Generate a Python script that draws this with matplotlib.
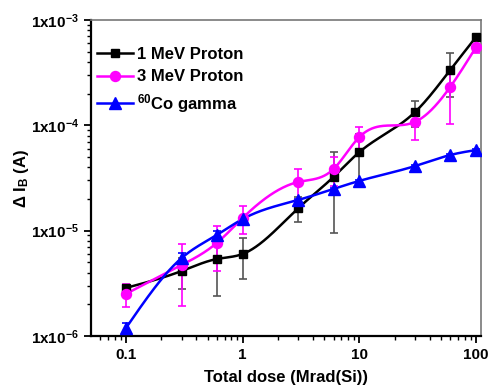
import numpy as np
import matplotlib
matplotlib.use("Agg")
import matplotlib.pyplot as plt
from matplotlib.ticker import FixedLocator, LogLocator, NullFormatter

plt.rcParams['font.family'] = ['Liberation Sans', 'DejaVu Sans']
plt.rcParams['font.weight'] = 'bold'
plt.rcParams['mathtext.fontset'] = 'custom'
plt.rcParams['mathtext.rm'] = 'Liberation Sans:bold'
plt.rcParams['mathtext.bf'] = 'Liberation Sans:bold'
plt.rcParams['mathtext.it'] = 'Liberation Sans:bold'
plt.rcParams['mathtext.default'] = 'bf'

# ---- data ----
dose = [0.1, 0.3, 0.6, 1, 3, 6, 10, 30, 60, 100]

p1_vals = [2.86e-6, 4.14e-6, 5.38e-6, 6.01e-6, 1.64e-5, 3.24e-5, 5.58e-5, 1.34e-4, 3.36e-4, 6.92e-4]
p1_err = [0.15e-6, 1.34e-6, 3.0e-6, 2.5e-6, 4.3e-6, 2.3e-5, 2.7e-5, 3.8e-5, 1.5e-4, 2.0e-5]

p3_vals = [2.51e-6, 4.72e-6, 7.64e-6, 1.32e-5, 2.9e-5, 3.85e-5, 7.76e-5, 1.08e-4, 2.32e-4, 5.56e-4]
p3_err = [0.62e-6, 2.8e-6, 3.5e-6, 4.0e-6, 9.5e-6, 1.2e-5, 1.9e-5, 3.5e-5, 1.29e-4, 7.0e-5]

co_vals = [1.19e-6, 5.5e-6, 9.1e-6, 1.29e-5, 1.96e-5, 2.49e-5, 2.97e-5, 4.11e-5, 5.23e-5, 5.83e-5]
co_err = [0.15e-6, 0.7e-6, 0.8e-6, 0.5e-6, 0.5e-6, 0.5e-6, 0.5e-6, 0.6e-6, 0.8e-6, 1.0e-6]

labels = ['1 MeV Proton', '3 MeV Proton', r'$^{60}$Co gamma']
colors = ['#000000', '#FF00FF', '#0000FF']
markers = ['s', 'o', '^']
msizes = [6.2, 7.2, 8]
ecolors = ['#555555', '#FF00FF', '#0000FF']

xticks = [0.1, 1, 10, 100]
xticklabels = ['0.1', '1', '10', '100']
yticks = [1e-6, 1e-5, 1e-4, 1e-3]
yticklabels = [r'1x10$^{-6}$', r'1x10$^{-5}$', r'1x10$^{-4}$', r'1x10$^{-3}$']


def natural_spline(x, y, xs):
    x = np.asarray(x, float)
    y = np.asarray(y, float)
    n = len(x)
    h = np.diff(x)
    A = np.zeros((n, n))
    b = np.zeros(n)
    A[0, 0] = 1
    A[-1, -1] = 1
    for i in range(1, n - 1):
        A[i, i - 1] = h[i - 1]
        A[i, i] = 2 * (h[i - 1] + h[i])
        A[i, i + 1] = h[i]
        b[i] = 3 * ((y[i + 1] - y[i]) / h[i] - (y[i] - y[i - 1]) / h[i - 1])
    c = np.linalg.solve(A, b)
    out = np.empty_like(xs)
    for k, xv in enumerate(xs):
        i = min(max(np.searchsorted(x, xv) - 1, 0), n - 2)
        dx = xv - x[i]
        bi = (y[i + 1] - y[i]) / h[i] - h[i] * (2 * c[i] + c[i + 1]) / 3
        di = (c[i + 1] - c[i]) / (3 * h[i])
        out[k] = y[i] + bi * dx + c[i] * dx ** 2 + di * dx ** 3
    return out


fig = plt.figure(figsize=(4.88, 3.91), dpi=100)
ax = fig.add_axes([0.1865, 0.1407, 0.7992, 0.8081])

for vals, errs, lab, col, mk, ms, ec in zip([p1_vals, p3_vals, co_vals],
                                             [p1_err, p3_err, co_err],
                                             labels, colors, markers, msizes, ecolors):
    lx = np.log10(dose)
    ly = np.log10(vals)
    xs = np.linspace(lx[0], lx[-1], 400)
    ys = natural_spline(lx, ly, xs)
    ax.plot(10 ** xs, 10 ** ys, color=col, lw=1.8, zorder=2)
    ax.errorbar(dose, vals, yerr=errs, fmt='none', ecolor=ec, elinewidth=1.2,
                capsize=3, capthick=1.2, zorder=3)
    ax.plot(dose, vals, linestyle='none', marker=mk, color=col, markersize=ms, zorder=4)
    ax.plot([], [], color=col, marker=mk, markersize=ms, lw=1.8, label=lab)

ax.set_xscale('log')
ax.set_yscale('log')
ax.set_xlim(0.0502, 110)
ax.set_ylim(1e-6, 1e-3)

ax.xaxis.set_major_locator(FixedLocator(xticks))
ax.set_xticklabels(xticklabels)
ax.xaxis.set_minor_locator(LogLocator(base=10, subs=np.arange(2, 10), numticks=20))
ax.xaxis.set_minor_formatter(NullFormatter())
ax.yaxis.set_major_locator(FixedLocator(yticks))
ax.set_yticklabels(yticklabels)
ax.yaxis.set_minor_locator(LogLocator(base=10, subs=np.arange(2, 10), numticks=20))
ax.yaxis.set_minor_formatter(NullFormatter())

ax.tick_params(axis='both', which='major', direction='out', length=5, width=1.3,
               labelsize=11, top=False, right=False)
ax.tick_params(axis='both', which='minor', direction='out', length=3, width=1.0,
               top=False, right=False)
for lbl in ax.get_xticklabels() + ax.get_yticklabels():
    lbl.set_fontweight('bold')

ax.spines['left'].set_linewidth(1.6)
ax.spines['bottom'].set_linewidth(1.6)
ax.spines['top'].set_color('#777777')
ax.spines['right'].set_color('#777777')
ax.spines['top'].set_linewidth(1.2)
ax.spines['right'].set_linewidth(1.2)

ax.set_xlabel('Total dose (Mrad(Si))', fontsize=12, fontweight='bold', labelpad=6)
ax.set_ylabel(r'$\Delta$ I$_{B}$ (A)', fontsize=12, fontweight='bold', labelpad=0)

leg = ax.legend(loc='upper left', frameon=False, fontsize=12, handlelength=2.15,
                handletextpad=0.25, labelspacing=0.45, borderaxespad=0.0,
                borderpad=0.0, bbox_to_anchor=(0.015, 0.915))
for t in leg.get_texts():
    t.set_fontweight('bold')

fig.savefig('out.png', dpi=100)
